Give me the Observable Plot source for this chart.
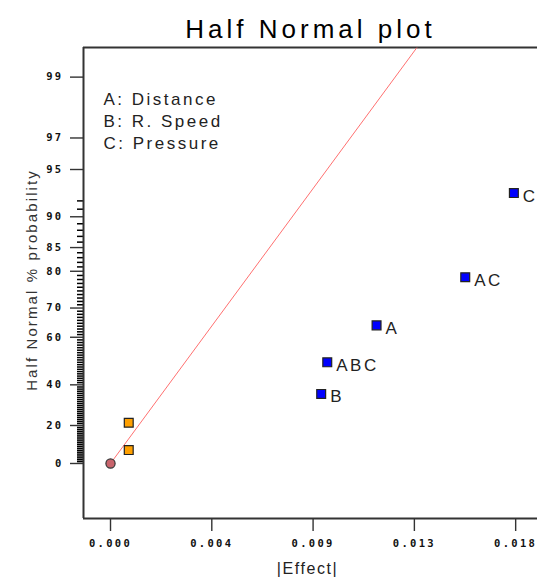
<!DOCTYPE html>
<html><head><meta charset="utf-8">
<script src="https://cdn.jsdelivr.net/npm/d3@7"></script>
<script src="https://cdn.jsdelivr.net/npm/@observablehq/plot@0.6"></script>
<style>
body{margin:0;background:#fff;}
#chart svg{display:block;}
g[font-size="26"] text{letter-spacing:4px;}
g[font-size="17"] text{letter-spacing:2.5px;}
g[font-size="15"] text{letter-spacing:2.1px;}
g[font-size="16"] text{letter-spacing:1.6px;}
g[font-size="10.5"] text{letter-spacing:2.3px;}
</style></head><body><div id="chart"></div>
<script>
// ---- data ----
const termLabels = ["", "", "B", "ABC", "A", "AC", "C"];
const termKinds = ["error", "error", "effect", "effect", "effect", "effect", "effect"];
const effectValues = [0.00081, 0.00081, 0.00936, 0.00963, 0.01182, 0.01576, 0.01792];
const halfNormalPct = [7.14, 21.43, 35.71, 50.0, 64.29, 78.57, 92.86];
const originEffect = [0];
const originPct = [0];
const fitEffect = [0, 0.0136];
const fitPct = [0, 99.44];
const legendLines = ["A: Distance", "B: R. Speed", "C: Pressure"];
const xTickValues = [0, 0.0045, 0.009, 0.0135, 0.018];
const xTickLabels = ["0.000", "0.004", "0.009", "0.013", "0.018"];
const yTickPct = [0, 20, 40, 60, 70, 80, 85, 90, 95, 97, 99];
const yTickLabels = ["0", "20", "40", "60", "70", "80", "85", "90", "95", "97", "99"];
const yMinorPct = d3.range(1, 93).filter(p => !yTickPct.includes(p));
const xDomain = [-0.0012, 0.01897];
const yDomainZ = [-0.3667, 2.7733];

// inverse normal CDF (Acklam)
function normInv(p){
  const a=[-3.969683028665376e+01,2.209460984245205e+02,-2.759285104469687e+02,1.383577518672690e+02,-3.066479806614716e+01,2.506628277459239e+00];
  const b=[-5.447609879822406e+01,1.615858368580409e+02,-1.556989798598866e+02,6.680131188771972e+01,-1.328068155288572e+01];
  const c=[-7.784894002430293e-03,-3.223964580411365e-01,-2.400758277161838e+00,-2.549732539343734e+00,4.374664141464968e+00,2.938163982698783e+00];
  const d=[7.784695709041462e-03,3.224671290700398e-01,2.445134137142996e+00,3.754408661907416e+00];
  const pl=0.02425, ph=1-pl;
  if(p<pl){const q=Math.sqrt(-2*Math.log(p));return (((((c[0]*q+c[1])*q+c[2])*q+c[3])*q+c[4])*q+c[5])/((((d[0]*q+d[1])*q+d[2])*q+d[3])*q+1);}
  if(p<=ph){const q=p-0.5,r=q*q;return (((((a[0]*r+a[1])*r+a[2])*r+a[3])*r+a[4])*r+a[5])*q/(((((b[0]*r+b[1])*r+b[2])*r+b[3])*r+b[4])*r+1);}
  const q=Math.sqrt(-2*Math.log(1-p));return -(((((c[0]*q+c[1])*q+c[2])*q+c[3])*q+c[4])*q+c[5])/((((d[0]*q+d[1])*q+d[2])*q+d[3])*q+1);
}
const hz = pct => normInv(0.5 + pct / 200);

const W = 537, H = 579, mL = 83, mR = 0, mT = 47, mB = 61;
const points = termLabels.map((t, i) => ({label: t, kind: termKinds[i], effect: effectValues[i], pct: halfNormalPct[i]}));
const origin = originEffect.map((e, i) => ({effect: e, pct: originPct[i]}));
const fit = fitEffect.map((e, i) => ({effect: e, pct: fitPct[i]}));
const xFmt = new Map(xTickValues.map((v, i) => [v, xTickLabels[i]]));
const yMajor = yTickPct.map(hz);
const yFmt = new Map(yMajor.map((v, i) => [v, yTickLabels[i]]));

const tickFont = {fontFamily: "DejaVu Sans Mono, monospace", fontWeight: "bold", fontSize: 10.5, fill: "#111"};

const chart = Plot.plot({
  width: W, height: H,
  marginTop: mT, marginBottom: mB, marginLeft: mL, marginRight: mR,
  style: {fontFamily: "Liberation Sans, Arial, sans-serif", background: "#fff", color: "#222"},
  x: {domain: xDomain},
  y: {domain: yDomainZ},
  marks: [
    Plot.axisX({ticks: xTickValues, tickFormat: d => xFmt.get(d), tickSize: 13, tickPadding: 8, label: null, stroke: "#333", strokeWidth: 1.4, ...tickFont}),
    Plot.ruleY(yMinorPct, {y: hz, insetRight: W - mL - mR - 6, dx: -6, stroke: "#000", strokeWidth: 1.5}),
    Plot.axisY({ticks: yMajor, tickFormat: d => yFmt.get(d), tickSize: 13, tickPadding: 7, label: null, stroke: "#333", strokeWidth: 1.4, ...tickFont}),
    Plot.ruleY([yDomainZ[0], yDomainZ[1]], {stroke: "#333", strokeWidth: 2}),
    Plot.ruleX([xDomain[0]], {stroke: "#333", strokeWidth: 2}),
    Plot.line(fit, {x: "effect", y: d => hz(d.pct), stroke: "#ff7070", strokeWidth: 1}),
    Plot.dot(origin, {x: "effect", y: d => hz(d.pct), r: 4.6, fill: "#c8646c", stroke: "#333", strokeWidth: 1.2}),
    Plot.dot(points, {x: "effect", y: d => hz(d.pct), symbol: "square", r: 5,
      fill: d => d.kind === "error" ? "#ffa000" : "#0000ff", stroke: "#222", strokeWidth: 1.2}),
    Plot.text(points, {x: "effect", y: d => hz(d.pct), text: "label", dx: 9, dy: 3, textAnchor: "start", fontSize: 17, fill: "#222"}),
    Plot.text([legendLines.join("\n")], {frameAnchor: "top-left", dx: 20, dy: 42, lineAnchor: "top", textAnchor: "start", lineHeight: 1.3, fontSize: 17, fill: "#222"}),
    Plot.text(["Half Normal plot"], {frameAnchor: "top", dy: -18, lineAnchor: "middle", textAnchor: "middle", fontSize: 26, fill: "#000"}),
    Plot.text(["Half Normal % probability"], {frameAnchor: "left", dx: -51, dy: -3, rotate: -90, textAnchor: "middle", lineAnchor: "middle", fontSize: 15, fill: "#333"}),
    Plot.text(["|Effect|"], {frameAnchor: "bottom", dx: -3, dy: 50, lineAnchor: "middle", textAnchor: "middle", fontSize: 16, fill: "#222"})
  ]
});
document.getElementById("chart").append(chart);
</script></body></html>
